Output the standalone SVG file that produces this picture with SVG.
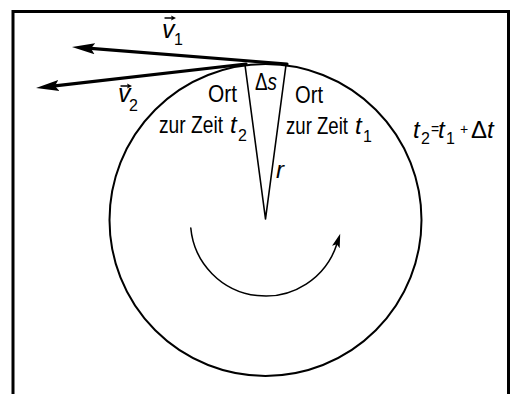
<svg xmlns="http://www.w3.org/2000/svg" width="510" height="394" viewBox="0 0 510 394">
<defs>
<style>
.t{font-family:"Liberation Sans",Arial,sans-serif;font-size:24px;fill:#000}
.i{font-style:italic}
.s{font-size:16px}
.ln{fill:none;stroke:#000;stroke-linecap:round}
</style>
<marker id="big" markerUnits="userSpaceOnUse" markerWidth="30" markerHeight="14" viewBox="0 -7 30 14" refX="4" refY="0" orient="auto">
<path d="M23,0 L0,-5.5 L4,0 L0,5.5 Z" fill="#000"/>
</marker>
<marker id="rot" markerUnits="userSpaceOnUse" markerWidth="20" markerHeight="12" viewBox="0 -6 20 12" refX="3" refY="0" orient="auto">
<path d="M14,0 L0,-4 L3,0 L0,4 Z" fill="#000"/>
</marker>
<marker id="vec" markerUnits="userSpaceOnUse" markerWidth="8" markerHeight="6" viewBox="0 -3 8 6" refX="1" refY="0" orient="auto">
<path d="M5,0 L0,-2.5 L1,0 L0,2.5 Z" fill="#000"/>
</marker>
</defs>
<rect width="510" height="394" fill="#fff"/>
<g id="frame">
<path d="M13,394 V11.5 H508.5 V394" fill="none" stroke="#000" stroke-width="3"/>
</g>
<g id="circle">
<circle cx="265.5" cy="220" r="156" fill="none" stroke="#000" stroke-width="2"/>
</g>
<g id="connectors">
<path class="ln" d="M265.5,219 L245,65 M265.5,219 L286,65" stroke-width="1.6"/>
<path class="ln" d="M287,64 L90.9,48.4" stroke-width="3.2" marker-end="url(#big)"/>
<path class="ln" d="M246,64 L54.9,85.9" stroke-width="3.2" marker-end="url(#big)"/>
<path class="ln" d="M190.8,228.1 A75,75 0 0 0 336.8,244.2" stroke-width="1.5" marker-end="url(#rot)"/>
</g>
<g id="label-v1">
<path class="ln" d="M165,18 H172" stroke-width="1.3" marker-end="url(#vec)"/>
<text class="t" y="38"><tspan class="i" x="162" font-size="25">v</tspan><tspan class="s" x="174" y="45">1</tspan></text>
</g>
<g id="label-v2">
<path class="ln" d="M121,86 H128" stroke-width="1.3" marker-end="url(#vec)"/>
<text class="t" y="102"><tspan class="i" x="118" font-size="25">v</tspan><tspan class="s" x="129" y="111">2</tspan></text>
</g>
<g id="label-ort2">
<text class="t" x="208" y="102" textLength="29" lengthAdjust="spacingAndGlyphs">Ort</text>
<text class="t" x="159" y="133" textLength="64" lengthAdjust="spacingAndGlyphs">zur Zeit</text>
<text class="t" y="133"><tspan class="i" x="230">t</tspan><tspan class="s" x="238" y="141">2</tspan></text>
</g>
<g id="label-ds">
<text class="t" x="255" y="90" font-size="22" textLength="22" lengthAdjust="spacingAndGlyphs">Δ<tspan class="i">s</tspan></text>
</g>
<g id="label-ort1">
<text class="t" x="295" y="103" textLength="28" lengthAdjust="spacingAndGlyphs">Ort</text>
<text class="t" x="286" y="134" textLength="62" lengthAdjust="spacingAndGlyphs">zur Zeit</text>
<text class="t" y="134"><tspan class="i" x="355">t</tspan><tspan class="s" x="363" y="142">1</tspan></text>
</g>
<g id="label-r">
<text class="t i" x="276" y="178">r</text>
</g>
<g id="label-eq">
<text class="t" y="138"><tspan class="i" x="413">t</tspan><tspan class="s" x="421" y="144">2</tspan><tspan x="431" y="134" font-size="14">=</tspan><tspan class="i" x="438" y="138">t</tspan><tspan class="s" x="446" y="144">1</tspan><tspan x="460" y="134" font-size="14">+</tspan><tspan x="471" y="138">Δ</tspan><tspan class="i" x="487">t</tspan></text>
</g>
</svg>
